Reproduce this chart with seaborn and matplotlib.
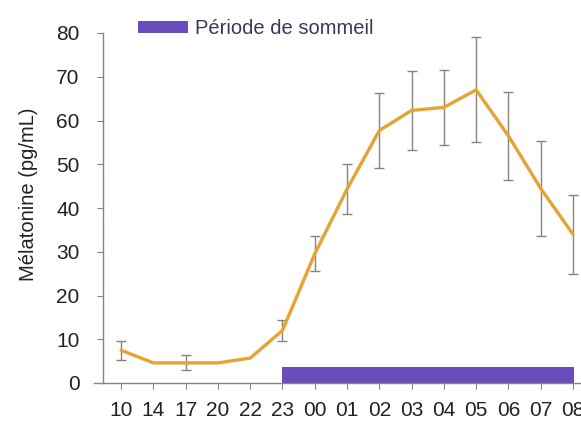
import seaborn as sns
import pandas as pd
import matplotlib.pyplot as plt
import numpy as np
from matplotlib.patches import Patch

hours = ["10", "14", "17", "20", "22", "23", "00", "01", "02", "03", "04", "05", "06", "07", "08"]
melatonin = [7.5, 4.6, 4.6, 4.6, 5.7, 12.0, 29.5, 44.3, 57.7, 62.3, 63.0, 67.0, 56.5, 44.5, 34.0]
err = [2.2, np.nan, 1.7, np.nan, np.nan, 2.5, 4.0, 5.7, 8.6, 9.0, 8.5, 12.0, 10.0, 10.8, 9.0]
sleep_start, sleep_end = "23", "08"
legend_label = "Période de sommeil"

data = pd.DataFrame({"heure": hours, "val": melatonin, "err": err})
data["pos"] = np.arange(len(hours))

sns.set_theme(style="ticks")
plt.rcParams['font.family'] = ['Liberation Sans', 'DejaVu Sans']

fig = plt.figure(figsize=(5.81, 4.21), dpi=100)
ax = fig.add_axes([103 / 581, 38 / 421, 478 / 581, 350 / 421])

# sleep period bar
i0, i1 = hours.index(sleep_start), hours.index(sleep_end)
ax.barh(y=2.0, width=i1 - i0, left=i0, height=3.4, color="#6a4cbc",
        edgecolor="#5a40a8", linewidth=0.6, zorder=1)

ax.errorbar(data["pos"], data["val"], yerr=data["err"], fmt="none",
            ecolor="#8c8378", elinewidth=1.0, capsize=3.5, capthick=1.0, zorder=2)
sns.lineplot(data=data, x="pos", y="val", color="#e6a233", linewidth=2.4,
             sort=False, ax=ax, zorder=3)

ax.set_xlim(-0.56, 14.25)
ax.set_ylim(0, 80)
ax.set_xticks(data["pos"])
ax.set_xticklabels(hours)
ax.set_yticks(range(0, 81, 10))
ax.tick_params(axis="both", labelsize=15, colors="#8c8378", labelcolor="#222222",
               length=4, width=0.8)
ax.tick_params(axis="y", pad=13)
ax.tick_params(axis="x", pad=9)
ax.set_xlabel("")
ax.set_ylabel("Mélatonine (pg/mL)", fontsize=14.5, color="#222222")
ax.yaxis.set_label_coords(-0.136, 0.54)
for s in ["top", "right"]:
    ax.spines[s].set_visible(False)
for s in ["left", "bottom"]:
    ax.spines[s].set_color("#8c8378")
    ax.spines[s].set_linewidth(1.0)
ax.spines["bottom"].set_bounds(-0.85, 14.25)

handle = Patch(facecolor="#6a4cbc", edgecolor="#5a40a8", linewidth=0.6)
ax.legend([handle], [legend_label], loc="center left", bbox_to_anchor=(0.073, 1.014),
          frameon=False, fontsize=14.5, handlelength=2.45, handleheight=0.45,
          handletextpad=0.4, borderpad=0, borderaxespad=0, labelcolor="#3d3560")

plt.savefig("out.png", dpi=100)
